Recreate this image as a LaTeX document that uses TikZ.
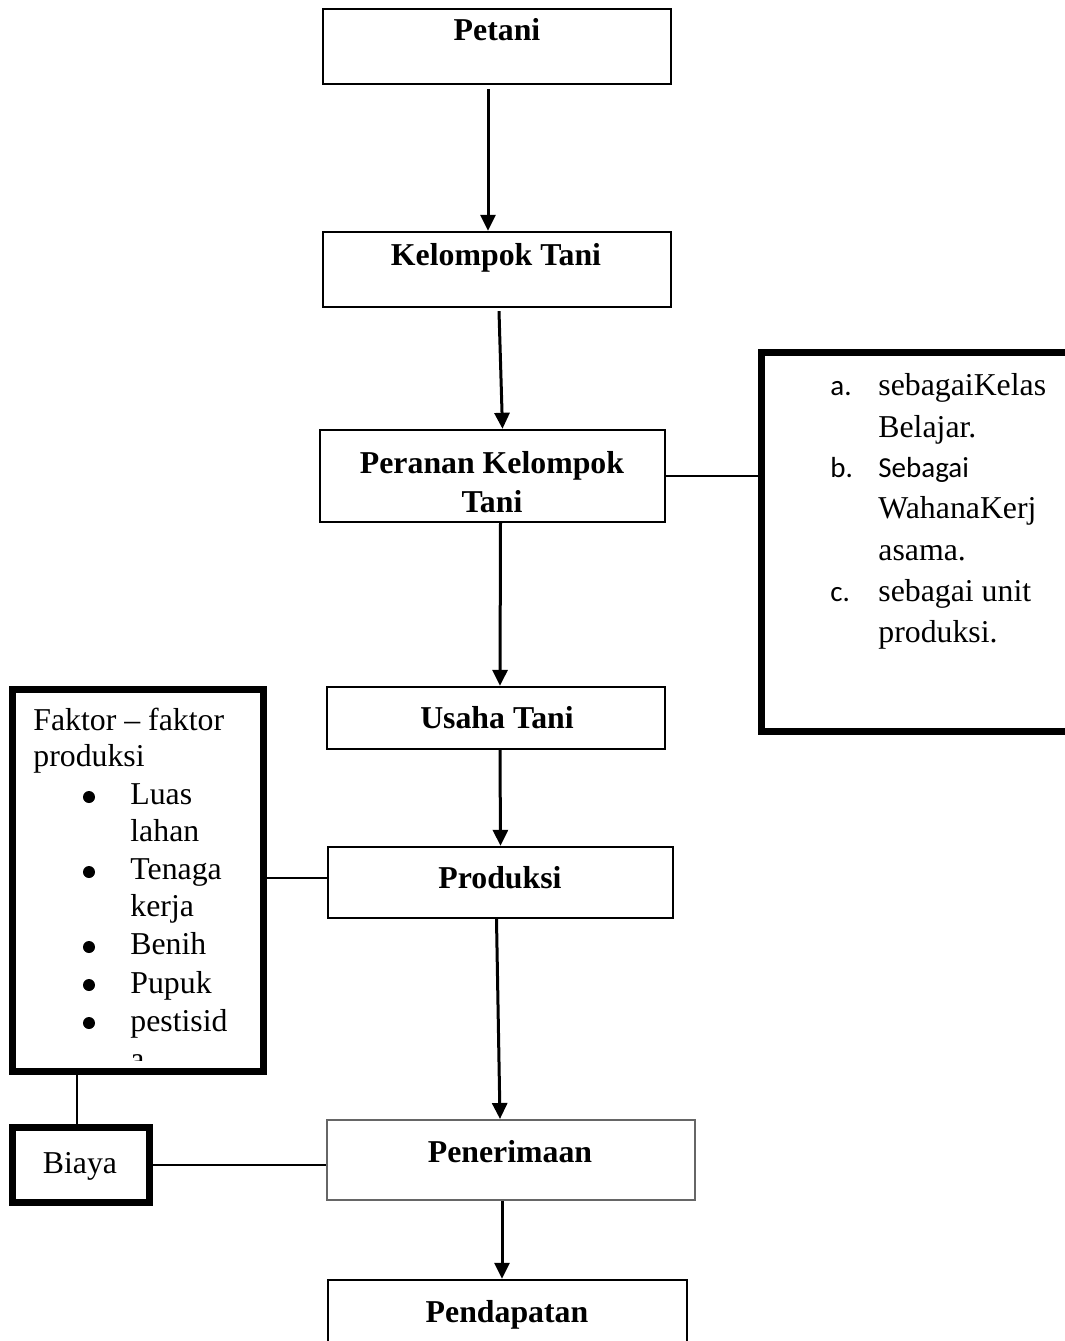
\documentclass[tikz,border=0pt]{standalone}
\usepackage{fontspec}
\setmainfont{Liberation Serif}
\newfontfamily\calfont{Carlito}
\usetikzlibrary{arrows.meta,fit,calc}
\begin{document}
\begin{tikzpicture}[x=0.5pt,y=-0.5pt,
  box/.style={draw=black, line width=1.2pt, inner sep=0pt},
  graybox/.style={draw=black!60, line width=1pt, inner sep=0pt},
  thickbox/.style={draw=black, line width=3.5pt, inner sep=0pt},
  title/.style={font=\fontsize{15.9}{19}\selectfont\bfseries, inner sep=0pt, anchor=base},
  txt/.style={font=\fontsize{15.9}{19}\selectfont, inner sep=0pt, anchor=base west},
  ctxt/.style={font=\fontsize{14.5}{19}\calfont, inner sep=0pt, anchor=base west},
  bul/.style={circle, fill=black, inner sep=0pt, minimum size=6pt},
  arr/.style={-{Triangle[width=7.5pt,length=8pt]}, line width=1.5pt},
  conn/.style={line width=1pt}]
\clip (0,0) rectangle (1065,1341);
\fill[white] (0,0) rectangle (1065,1341);

% main column boxes
\node[box, fit={(323,9) (671,84)}] (petani) {};
\node[title] (tpetani) at (497,40) {Petani};
\node[box, fit={(323,232) (671,307)}] (kelompok) {};
\node[title] (tkelompok) at (496,265) {Kelompok Tani};
\node[box, fit={(320,430) (665,522)}] (peranan) {};
\node[title] (tperanan1) at (492,473) {Peranan Kelompok};
\node[title] (tperanan2) at (492,512) {Tani};
\node[box, fit={(327,687) (665,749)}] (usaha) {};
\node[title] (tusaha) at (497,728) {Usaha Tani};
\node[box, fit={(328,847) (673,918)}] (produksi) {};
\node[title] (tproduksi) at (500,888) {Produksi};
\node[graybox, fit={(327,1120) (695,1200)}] (pener) {};
\node[title] (tpener) at (510,1162) {Penerimaan};
\node[box, fit={(328,1280) (687,1360)}] (pendap) {};
\node[title] (tpendap) at (507,1322) {Pendapatan};

% right box
\node[thickbox, fit={(761,352) (1090,731)}] (rbox) {};
\node[ctxt] (ra) at (830,395) {a.};
\node[txt] (r1) at (878,395) {sebagaiKelas};
\node[txt] (r2) at (878,437) {Belajar.};
\node[ctxt] (rb) at (830,477) {b.};
\node[ctxt] (r3) at (878,477) {Sebagai};
\node[txt] (r4) at (878,518) {WahanaKerj};
\node[txt] (r5) at (878,560) {asama.};
\node[ctxt] (rc) at (830,601) {c.};
\node[txt] (r6) at (878,601) {sebagai unit};
\node[txt] (r7) at (878,642) {produksi.};

% left box
\node[thickbox, fit={(12,689) (263,1071)}] (lbox) {};
\node[txt] (l1) at (33,730) {Faktor – faktor};
\node[txt] (l2) at (33,766) {produksi};
\node[bul] (b1) at (89,797) {};
\node[txt] (l3) at (130,804) {Luas};
\node[txt] (l4) at (130,841) {lahan};
\node[bul] (b2) at (89,872) {};
\node[txt] (l5) at (130,879) {Tenaga};
\node[txt] (l6) at (130,916) {kerja};
\node[bul] (b3) at (89,947) {};
\node[txt] (l7) at (130,954) {Benih};
\node[bul] (b4) at (89,985) {};
\node[txt] (l8) at (130,993) {Pupuk};
\node[bul] (b5) at (89,1023) {};
\node[txt] (l9) at (130,1031) {pestisid};
\begin{scope}
\clip (120,1040) rectangle (250,1060);
\node[txt] (l10) at (130,1069) {a};
\end{scope}

% biaya
\node[thickbox, fit={(12,1127) (149,1202)}] (biaya) {};
\node[txt, anchor=base] (tbiaya) at (80,1173) {Biaya};

% arrows
\draw[arr] ($(petani.south)+(-9,4)$) -- ($(kelompok.north)+(-9,0)$);
\draw[arr] ($(kelompok.south)+(2,3)$) -- ($(peranan.north)+(10,0)$);
\draw[arr] ($(peranan.south)+(8,0)$) -- ($(usaha.north)+(4,0)$);
\draw[arr] ($(usaha.south)+(4,0)$) -- (produksi.north);
\draw[arr] ($(produksi.south)+(-4,0)$) -- ($(pener.north)+(-11,0)$);
\draw[arr] ($(pener.south)+(-9,0)$) -- ($(pendap.north)+(-5.5,0)$);

% plain connectors
\draw[conn] (peranan.east) -- (peranan.east -| rbox.west);
\coordinate (lp) at ($(produksi.west)+(0,-4.5)$);
\draw[conn] (lp) -- (lp -| lbox.east);
\coordinate (bt) at ($(biaya.north)+(-3.5,0)$);
\draw[conn] (bt) -- (bt |- lbox.south);
\coordinate (br) at (biaya.east);
\draw[conn] (br) -- (br -| pener.west);
\end{tikzpicture}
\end{document}
